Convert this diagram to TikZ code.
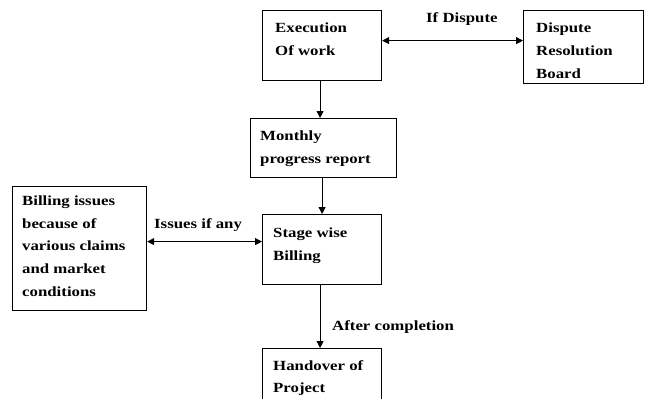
\documentclass[tikz,border=0pt]{standalone}
\usepackage{fontspec}
\setmainfont{Liberation Serif}[FakeStretch=1.2]
\usetikzlibrary{arrows.meta}
\begin{document}
\begin{tikzpicture}[x=1pt,y=-1pt,
  box/.style={draw,line width=1.2pt,inner sep=0pt,anchor=north west},
  txt/.style={anchor=north west,inner sep=0pt,align=left,font=\fontsize{14}{22.7}\selectfont\bfseries},
  lbl/.style={anchor=base west,inner sep=0pt,font=\fontsize{14}{17}\selectfont\bfseries},
  tip/.style={Triangle[length=7pt,width=7pt]},
  arr/.style={line width=1pt,-{Triangle[length=7pt,width=7pt]}},
  darr/.style={line width=1pt,{Triangle[length=7pt,width=7pt]}-{Triangle[length=7pt,width=7pt]}}]
\useasboundingbox (0,0) rectangle (646,399);
\clip (0,0) rectangle (646,399);
% boxes
\node[box,minimum width=119pt,minimum height=70pt] (exec) at (262,10) {};
\node[box,minimum width=120pt,minimum height=73pt] (dsp) at (523,10) {};
\node[box,minimum width=146pt,minimum height=59pt] (mon) at (250,118) {};
\node[box,minimum width=119pt,minimum height=70pt] (stage) at (262,214) {};
\node[box,minimum width=134pt,minimum height=124pt] (bill) at (12,186) {};
\node[box,minimum width=119pt,minimum height=70pt] (hand) at (262,348) {};
% texts
\node[txt] (texec) at (275,22.7) {Execution\\Of work};
\node[txt] (tdsp) at (536,22.7) {Dispute\\Resolution\\Board};
\node[txt] (tmon) at (260,131) {Monthly\\progress report};
\node[txt] (tstage) at (273,228) {Stage wise\\Billing};
\node[txt] (tbill) at (22,195.5) {Billing issues\\because of\\various claims\\and market\\conditions};
\node[txt] (thand) at (273,360) {Handover of\\Project};
% labels
\node[lbl] (ldisp) at (426,22.7) {If Dispute};
\node[lbl] (liss) at (154,228) {Issues if any};
\node[lbl] (lafter) at (332,330) {After completion};
% connectors
\draw[darr] ([yshift=5pt]exec.east) -- ([yshift=6.5pt]dsp.west);
\coordinate (e1) at ([xshift=-2pt]exec.south);
\draw[arr] (e1) -- (e1 |- mon.north);
\draw[arr] (stage.north |- mon.south) -- (stage.north);
\coordinate (s1) at ([yshift=8pt]stage.west);
\draw[darr] (bill.east |- s1) -- (s1);
\coordinate (s2) at ([xshift=-2pt]stage.south);
\draw[arr] (s2) -- (s2 |- hand.north);
\end{tikzpicture}
\end{document}
